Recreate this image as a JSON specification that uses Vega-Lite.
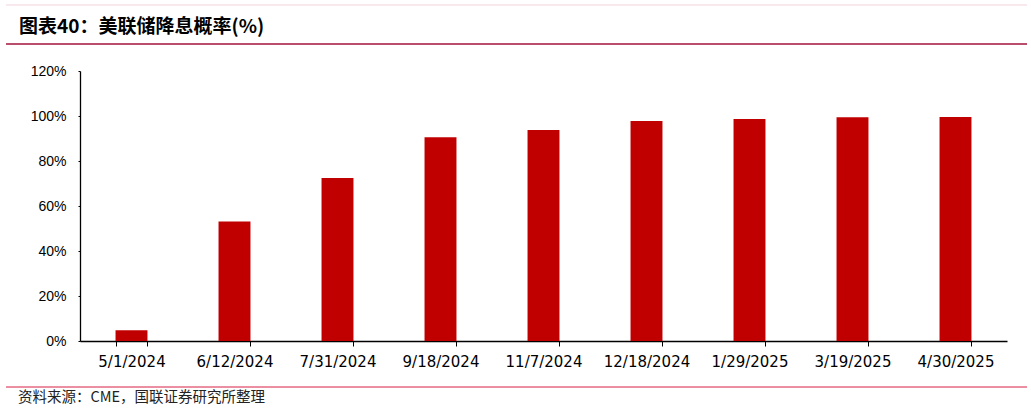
{
  "$schema": "https://vega.github.io/schema/vega-lite/v6.json",
  "padding": {"left": 5, "top": 0, "right": 5, "bottom": 0},
  "background": "white",
  "spacing": 17,
  "config": {"view": {"stroke": null}},
  "vconcat": [
    {
      "width": 947,
      "height": 47,
      "data": {"values": [{"t": "图表40：美联储降息概率(%)"}]},
      "layer": [
        {
          "mark": {"type": "rule", "color": "#f2d3db", "strokeWidth": 1, "clip": false},
          "encoding": {
            "x": {"datum": -0.0781, "type": "quantitative", "scale": {"domain": [0, 1]}, "axis": null},
            "x2": {"datum": 1},
            "y": {"datum": 0.894, "type": "quantitative", "scale": {"domain": [0, 1]}, "axis": null}
          }
        },
        {
          "mark": {"type": "rule", "color": "#a3123a", "strokeWidth": 1.5, "clip": false},
          "encoding": {
            "x": {"datum": -0.0781, "type": "quantitative", "axis": null},
            "x2": {"datum": 1},
            "y": {"datum": 0.0638, "type": "quantitative", "axis": null}
          }
        },
        {
          "mark": {"type": "text", "align": "left", "baseline": "middle", "dx": 13, "fontSize": 19, "fontWeight": "bold", "font": "Noto Sans CJK SC", "color": "#000"},
          "encoding": {
            "x": {"datum": -0.0781, "type": "quantitative", "axis": null},
            "y": {"datum": 0.4255, "type": "quantitative", "axis": null},
            "text": {"field": "t"}
          }
        }
      ]
    },
    {
      "width": 927,
      "height": 270,
      "data": {"values": [
        {"date": "5/1/2024", "prob": 4.8},
        {"date": "6/12/2024", "prob": 53.1},
        {"date": "7/31/2024", "prob": 72.4},
        {"date": "9/18/2024", "prob": 90.6},
        {"date": "11/7/2024", "prob": 93.8},
        {"date": "12/18/2024", "prob": 97.8},
        {"date": "1/29/2025", "prob": 98.7},
        {"date": "3/19/2025", "prob": 99.4},
        {"date": "4/30/2025", "prob": 99.6}
      ]},
      "mark": {"type": "bar", "color": "#C00000"},
      "encoding": {
        "x": {
          "field": "date", "type": "ordinal", "sort": null,
          "scale": {"paddingInner": 0.69, "paddingOuter": 0.345},
          "axis": {"title": null, "labelAngle": 0, "tickBand": "extent", "grid": false, "domainColor": "#000", "domainWidth": 1.3, "tickColor": "#000", "tickSize": 5, "labelFont": "DejaVu Sans", "labelFontSize": 15, "labelColor": "#000", "labelPadding": 8}
        },
        "y": {
          "field": "prob", "type": "quantitative",
          "scale": {"domain": [0, 120]},
          "axis": {"title": null, "values": [0, 20, 40, 60, 80, 100, 120], "labelExpr": "datum.value + '%'", "grid": false, "domainColor": "#000", "domainWidth": 1.3, "tickColor": "#000", "tickSize": 2, "labelFont": "Liberation Sans", "labelFontSize": 14, "labelColor": "#000", "labelPadding": 12, "minExtent": 74}
        }
      }
    },
    {
      "width": 947,
      "height": 24,
      "data": {"values": [{"t": "资料来源：CME，国联证券研究所整理"}]},
      "layer": [
        {
          "mark": {"type": "rule", "color": "#d81e45", "strokeWidth": 1, "clip": false},
          "encoding": {
            "x": {"datum": -0.0781, "type": "quantitative", "scale": {"domain": [0, 1]}, "axis": null},
            "x2": {"datum": 1},
            "y": {"datum": 1, "type": "quantitative", "scale": {"domain": [0, 1]}, "axis": null}
          }
        },
        {
          "mark": {"type": "text", "align": "left", "baseline": "middle", "dx": 12, "fontSize": 14.5, "font": "Noto Sans CJK SC", "color": "#222"},
          "encoding": {
            "x": {"datum": -0.0781, "type": "quantitative", "axis": null},
            "y": {"datum": 0.54, "type": "quantitative", "axis": null},
            "text": {"field": "t"}
          }
        }
      ]
    }
  ]
}
